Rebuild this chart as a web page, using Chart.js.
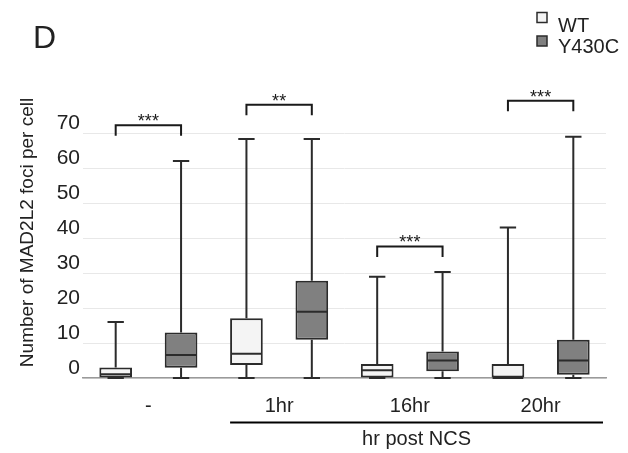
<!DOCTYPE html>
<html>
<head>
<meta charset="utf-8">
<script src="https://cdn.jsdelivr.net/npm/chart.js@4"></script>
<style>
  body { margin: 0; background: #fff; }
  canvas { display: block; }
</style>
</head>
<body>
<canvas id="myChart" width="628" height="453"></canvas>
<script>
const timepoints = ['-', '1hr', '16hr', '20hr'];
const genotypes = ['WT', 'Y430C'];

// box plot values per timepoint
const wtMin = [0, 0, 0, 0];
const wtQ1 = [0, 3.7, 0, 0];
const wtMedian = [1.1, 6.9, 2.2, 0];
const wtQ3 = [3.0, 17.1, 4.0, 4.0];
const wtMax = [16, 68.3, 28.9, 43];

const mutMin = [0, 0, 0, 0];
const mutQ1 = [2.9, 10.9, 1.9, 0.9];
const mutMedian = [6.6, 18.9, 5.0, 5.0];
const mutQ3 = [13.0, 27.8, 7.6, 10.9];
const mutMax = [62, 68.3, 30.3, 68.9];

const yTicks = [0, 10, 20, 30, 40, 50, 60, 70];

// significance brackets, one per timepoint
const sigLabels = ['***', '**', '***', '***'];
const sigHeights = [72.2, 78.1, 37.6, 79.2];

const yTitle = 'Number of MAD2L2 foci per cell';
const xGroupTitle = 'hr post NCS';
const panelLetter = 'D';

const FONT = "'Liberation Sans', Arial, sans-serif";
const INK = '#2b2b2b';

// one x category per box: timepoint x genotype
const boxLabels = [];
timepoints.forEach(function (t) {
  genotypes.forEach(function (g) { boxLabels.push(t + ' ' + g); });
});

const wtData = boxLabels.map((_, i) => i % 2 === 0 ? [wtQ1[i / 2], wtQ3[i / 2]] : null);
const mutData = boxLabels.map((_, i) => i % 2 === 1 ? [mutQ1[(i - 1) / 2], mutQ3[(i - 1) / 2]] : null);

// whiskers, medians, brackets, legend and loose text
const boxExtras = {
  id: 'boxExtras',
  afterDatasetsDraw(chart) {
    const ctx = chart.ctx;
    const y = chart.scales.y;
    ctx.save();
    ctx.strokeStyle = INK;
    ctx.lineWidth = 2;
    chart.data.datasets.forEach(function (ds, di) {
      const meta = chart.getDatasetMeta(di);
      meta.data.forEach(function (bar, i) {
        if (ds.data[i] === null) return;
        const g = Math.floor(i / 2);
        const half = bar.width / 2;
        const cap = bar.width / 4;
        const yQ1 = y.getPixelForValue(ds.data[i][0]);
        const yQ3 = y.getPixelForValue(ds.data[i][1]);
        const yMin = y.getPixelForValue(ds.stats.min[g]);
        const yMax = y.getPixelForValue(ds.stats.max[g]);
        const yMed = y.getPixelForValue(ds.stats.median[g]);
        ctx.beginPath();
        ctx.moveTo(bar.x, yQ3); ctx.lineTo(bar.x, yMax);
        ctx.moveTo(bar.x - cap, yMax); ctx.lineTo(bar.x + cap, yMax);
        ctx.moveTo(bar.x, yQ1); ctx.lineTo(bar.x, yMin);
        ctx.moveTo(bar.x - cap, yMin); ctx.lineTo(bar.x + cap, yMin);
        ctx.moveTo(bar.x - half + 1, yMed); ctx.lineTo(bar.x + half - 1, yMed);
        ctx.stroke();
      });
    });
    ctx.restore();
  },
  afterDraw(chart) {
    const ctx = chart.ctx;
    const x = chart.scales.x;
    const y = chart.scales.y;
    const x2 = chart.scales.x2;
    const area = chart.chartArea;
    ctx.save();

    // significance brackets
    ctx.strokeStyle = '#1a1a1a';
    ctx.fillStyle = '#1a1a1a';
    ctx.lineWidth = 2;
    ctx.font = '18px ' + FONT;
    ctx.textAlign = 'center';
    ctx.textBaseline = 'alphabetic';
    sigLabels.forEach(function (label, g) {
      const xl = x.getPixelForValue(2 * g);
      const xr = x.getPixelForValue(2 * g + 1);
      const yt = y.getPixelForValue(sigHeights[g]);
      const yb = y.getPixelForValue(sigHeights[g] - 3);
      ctx.beginPath();
      ctx.moveTo(xl, yb); ctx.lineTo(xl, yt); ctx.lineTo(xr, yt); ctx.lineTo(xr, yb);
      ctx.stroke();
      ctx.fillText(label, (xl + xr) / 2, yt + 2);
    });

    // line and label under the post-NCS timepoints
    const firstBar = chart.getDatasetMeta(0).data[2];
    const lineY = x2.bottom + 2.5;
    const lineL = firstBar.x - firstBar.width / 2;
    const lineR = area.right - 3;
    ctx.strokeStyle = '#000';
    ctx.beginPath();
    ctx.moveTo(lineL, lineY); ctx.lineTo(lineR, lineY);
    ctx.stroke();
    ctx.fillStyle = '#222';
    ctx.font = '20px ' + FONT;
    ctx.fillText(xGroupTitle, (lineL + lineR) / 2, lineY + 22);

    // y axis title
    ctx.save();
    ctx.translate(28, (area.top + area.bottom) / 2 - 23);
    ctx.rotate(-Math.PI / 2);
    ctx.font = '19px ' + FONT;
    ctx.textBaseline = 'middle';
    ctx.fillText(yTitle, 0, 0);
    ctx.restore();

    // panel letter
    ctx.textAlign = 'left';
    ctx.font = '32px ' + FONT;
    ctx.fillText(panelLetter, 33, 48);

    // legend
    ctx.font = '20px ' + FONT;
    chart.data.datasets.forEach(function (ds, di) {
      const top = 12.5 + di * 23.5;
      ctx.fillStyle = ds.backgroundColor;
      ctx.fillRect(537, top, 10, 10);
      ctx.strokeStyle = INK;
      ctx.lineWidth = 1.5;
      ctx.strokeRect(537, top, 10, 10);
      ctx.fillStyle = '#222';
      ctx.fillText(ds.label, 558, 32 + di * 21);
    });
    ctx.restore();
  }
};

Chart.defaults.font.family = FONT;
Chart.defaults.color = '#222';

const ctx = document.getElementById('myChart').getContext('2d');
new Chart(ctx, {
  type: 'bar',
  data: {
    labels: boxLabels,
    datasets: [{
      label: genotypes[0],
      data: wtData,
      stats: { min: wtMin, median: wtMedian, max: wtMax },
      backgroundColor: '#f4f4f4',
      borderColor: INK,
      borderWidth: 2,
      borderSkipped: false
    }, {
      label: genotypes[1],
      data: mutData,
      stats: { min: mutMin, median: mutMedian, max: mutMax },
      backgroundColor: '#808080',
      borderColor: INK,
      borderWidth: 2,
      borderSkipped: false
    }]
  },
  options: {
    responsive: false,
    animation: false,
    skipNull: true,
    barPercentage: 0.5,
    categoryPercentage: 1,
    layout: {
      padding: { top: 133, right: 22, bottom: 33, left: 0 }
    },
    plugins: {
      legend: { display: false },
      tooltip: { enabled: false }
    },
    scales: {
      x: {
        weight: 0,
        ticks: { display: false },
        grid: { display: false, drawTicks: false },
        border: { color: '#9a9a9a', width: 1.5 },
        afterFit: function (scale) { scale.height = 0; }
      },
      x2: {
        type: 'category',
        labels: timepoints,
        position: 'bottom',
        offset: true,
        weight: 1,
        grid: { display: false, drawTicks: false },
        border: { display: false },
        ticks: { padding: 16, font: { size: 20 }, color: '#222' },
        afterFit: function (scale) { scale.height = 42; }
      },
      y: {
        min: 0,
        max: 70,
        afterBuildTicks: function (scale) {
          scale.ticks = yTicks.map(v => ({ value: v }));
        },
        ticks: { padding: 3, labelOffset: -10, font: { size: 21 }, color: '#222' },
        grid: { color: '#e8e8e8', drawTicks: false },
        border: { display: false },
        afterFit: function (scale) { scale.width = 83; }
      }
    }
  },
  plugins: [boxExtras]
});
</script>
</body>
</html>
